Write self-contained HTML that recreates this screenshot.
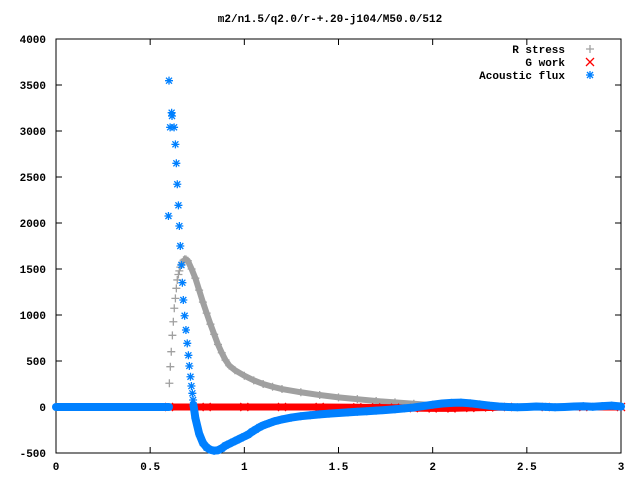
<!DOCTYPE html>
<html><head><meta charset="utf-8"><style>
html,body{margin:0;padding:0;background:#fff}
svg{display:block}
text{font-family:"Liberation Mono",monospace;font-size:11px;font-weight:bold;fill:#000}
</style></head><body>
<svg id="chart" width="640" height="480" viewBox="0 0 640 480">
<text x="330" y="22" text-anchor="middle">m2/n1.5/q2.0/r-+.20-j104/M50.0/512</text>
<g id="axes"></g>
<g id="series"></g>
<g id="legend"></g>
</svg>
<script>
const xTicks=[0,0.5,1,1.5,2,2.5,3];
const xTickLabels=["0","0.5","1","1.5","2","2.5","3"];
const yTicks=[-500,0,500,1000,1500,2000,2500,3000,3500,4000];
const yTickLabels=["-500","0","500","1000","1500","2000","2500","3000","3500","4000"];
// R stress
const rSpikeX=[0.602,0.607,0.612,0.618,0.623,0.628,0.634,0.639,0.644,0.650,0.655,0.660,0.666,0.671,0.677,0.683];
const rSpikeY=[258,438,601,779,927,1073,1181,1290,1381,1440,1480,1520,1550,1575,1595,1605];
const rBandX=[0.69,0.70,0.72,0.74,0.76,0.78,0.80,0.82,0.84,0.86,0.88,0.90,0.92,0.95,1.0,1.05,1.1,1.15,1.2,1.3,1.4,1.5,1.6,1.7,1.8,1.9,2.0,2.1,2.2];
const rBandY=[1605,1590,1500,1400,1270,1140,1020,900,790,680,590,510,450,400,340,290,250,220,195,160,130,105,85,65,50,35,20,12,5];
// G work
const gX=[0.6,0.8,1.0,1.2,1.4,1.6,1.7,1.8,1.9,2.0,2.1,2.2,2.3,2.4,2.6,2.8,3.0];
const gY=[0,0,0,0,0,-3,-5,-8,-12,-15,-15,-10,-5,0,0,0,0];
// Acoustic flux
const aFlatX=[0,0.05,0.1,0.15,0.2,0.25,0.3,0.35,0.4,0.45,0.5,0.55,0.6];
const aFlatY=[0,0,0,0,0,0,0,0,0,0,0,0,0];
const aSpikeX=[0.600,0.614,0.616,0.606,0.627,0.634,0.639,0.644,0.650,0.597,0.655,0.660,0.666,0.671,0.676,0.683,0.690,0.697,0.703,0.708,0.714,0.719,0.724,0.728];
const aSpikeY=[3547,3199,3163,3040,3040,2855,2649,2421,2192,2076,1967,1750,1543,1351,1163,992,837,692,562,446,329,228,149,76];
const aTailX=[0.73,0.74,0.76,0.78,0.80,0.82,0.84,0.86,0.88,0.90,0.92,0.94,0.96,0.98,1.00,1.02,1.04,1.06,1.08,1.10,1.12,1.14,1.16,1.18,1.20,1.25,1.30,1.35,1.40,1.45,1.50,1.55,1.60,1.65,1.70,1.75,1.80,1.85,1.90,1.95,2.00,2.05,2.10,2.15,2.20,2.25,2.30,2.35,2.40,2.45,2.50,2.55,2.60,2.65,2.70,2.75,2.80,2.85,2.90,2.95,3.00];
const aTailY=[20,-120,-290,-390,-440,-465,-475,-470,-450,-420,-400,-380,-360,-340,-320,-300,-270,-245,-220,-200,-185,-170,-155,-145,-135,-115,-100,-90,-80,-72,-65,-58,-52,-46,-40,-33,-25,-15,-5,10,25,38,45,48,40,28,15,5,0,-3,0,5,2,-3,0,5,8,3,10,15,5];

const L=56,R=621,T=39,B=453,XMIN=0,XMAX=3,YMIN=-500,YMAX=4000;
const sx=v=>L+(v-XMIN)/(XMAX-XMIN)*(R-L);
const sy=v=>T+(YMAX-v)/(YMAX-YMIN)*(B-T);
const NS="http://www.w3.org/2000/svg";
function mk(tag,attrs,parent){const e=document.createElementNS(NS,tag);for(const k in attrs)e.setAttribute(k,attrs[k]);parent.appendChild(e);return e;}
const axes=document.getElementById('axes'),series=document.getElementById('series'),legend=document.getElementById('legend');

const frame=mk('rect',{x:L,y:T,width:R-L,height:B-T,fill:'none',stroke:'#000','stroke-width':1},axes);


xTicks.forEach((v,i)=>{
  const x=sx(v);
  const t=mk('path',{d:`M${x},${B}v-6M${x},${T}v6`,stroke:'#000','stroke-width':1},axes);
  
  
  const lb=mk('text',{x:x,y:B+17,'text-anchor':'middle'},axes);lb.textContent=xTickLabels[i];
  
  
});
yTicks.forEach((v,i)=>{
  const y=sy(v);
  const t=mk('path',{d:`M${L},${y}h6M${R},${y}h-6`,stroke:'#000','stroke-width':1},axes);
  
  
  const lb=mk('text',{x:46,y:y+4,'text-anchor':'end'},axes);lb.textContent=yTickLabels[i];
  
  
});

function marker(type,x,y,color,parent){
  let d;
  if(type==='plus')d=`M${x-4},${y}h8M${x},${y-4}v8`;
  else if(type==='cross')d=`M${x-4},${y-4}l8,8M${x-4},${y+4}l8,-8`;
  else d=`M${x-4},${y}h8M${x},${y-4}v8M${x-3},${y-3}l6,6M${x-3},${y+3}l6,-6`;
  return mk('path',{d:d,stroke:color,'stroke-width':1.3,fill:'none'},parent);
}
function band(xs,ys,color,w,name){
  const p=mk('polyline',{points:xs.map((v,i)=>sx(v)+','+sy(ys[i])).join(' '),fill:'none',stroke:color,'stroke-width':w,'stroke-linejoin':'round','stroke-linecap':'round'},series);
  
  
}
function points(xs,ys,type,color,name){
  const g=mk('g',{},series);
  
  
  xs.forEach((v,i)=>{const m=marker(type,sx(v),sy(ys[i]),color,g);
    
    });
}
const GRAY='#a0a0a0',RED='#ff0000',BLUE='#0080ff';
band(rBandX,rBandY,GRAY,6,'r-stress-band');
points(rSpikeX,rSpikeY,'plus',GRAY,'r-stress-series');
points(rBandX,rBandY,'plus',GRAY,'r-stress-band-points');
band(gX,gY,RED,7,'g-work-band');
points(gX,gY,'cross',RED,'g-work-series');
band(aFlatX,aFlatY,BLUE,8,'acoustic-flux-flat-band');
band(aTailX,aTailY,BLUE,8,'acoustic-flux-tail-band');
points(aSpikeX,aSpikeY,'star',BLUE,'acoustic-flux-series');
points(aTailX,aTailY,'star',BLUE,'acoustic-flux-tail-points');

const leg=[["R stress",'plus',GRAY],["G work",'cross',RED],["Acoustic flux",'star',BLUE]];
leg.forEach((e,i)=>{
  const y=49+i*13;
  const t=mk('text',{x:565,y:y+4,'text-anchor':'end'},legend);t.textContent=e[0];
  
  
  const m=marker(e[1],590,y,e[2],legend);
  
  
});
</script>
</body></html>
